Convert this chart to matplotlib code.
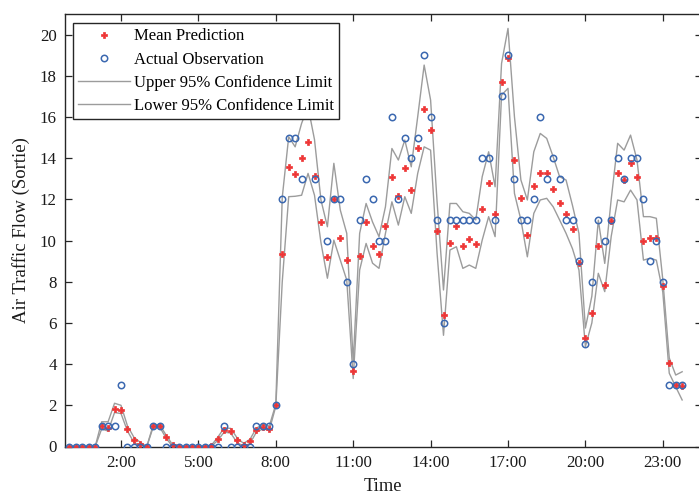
import numpy as np
import matplotlib
matplotlib.use("Agg")
import matplotlib.pyplot as plt

plt.rcParams['font.family'] = ['Liberation Serif', 'DejaVu Serif']
plt.rcParams['mathtext.fontset'] = 'stix'

# 15-minute slots over one day (hours)
hours = np.arange(96) * 0.25

actual = [0, 0, 0, 0, 0, 1, 1, 1, 3, 0, 0, 0, 0, 1, 1, 0,
          0, 0, 0, 0, 0, 0, 0, 0, 1, 0, 0, 0, 0, 1, 1, 1,
          2, 12, 15, 15, 13, 17, 13, 12, 10, 12, 12, 8, 4, 11, 13, 12,
          10, 10, 16, 12, 15, 14, 15, 19, 16, 11, 6, 11, 11, 11, 11, 11,
          14, 14, 11, 17, 19, 13, 11, 11, 12, 16, 13, 14, 13, 11, 11, 9,
          5, 8, 11, 10, 11, 14, 13, 14, 14, 12, 9, 10, 8, 3, 3, 3]

mean_pred = [0, 0, 0, 0, 0, 1.0, 0.88, 1.8, 1.75, 0.86, 0.31, 0.1, 0.0, 1.0, 1.0, 0.46,
             0.05, 0, 0, 0, 0, 0, 0.03, 0.36, 0.8, 0.76, 0.31, 0.07, 0.26, 0.8, 0.95, 0.86,
             2.0, 9.33, 13.57, 13.24, 14.02, 14.8, 13.13, 10.88, 9.2, 12.0, 10.1, 9.04, 3.66, 9.26, 10.88, 9.72,
             9.33, 10.72, 13.08, 12.18, 13.52, 12.45, 14.5, 16.37, 15.36, 10.48, 6.4, 9.88, 10.72, 9.72, 10.07, 9.83,
             11.53, 12.79, 11.29, 17.71, 18.84, 13.9, 12.06, 10.27, 12.63, 13.29, 13.29, 12.5, 11.84, 11.29, 10.54, 8.9,
             5.28, 6.46, 9.72, 7.86, 10.96, 13.29, 12.94, 13.75, 13.07, 9.99, 10.1, 10.1, 7.8, 4.07, 3.0, 2.92]

upper_95 = [0, 0, 0, 0, 0, 1.2, 1.2, 2.1, 2.0, 1.0, 0.45, 0.2, 0.0, 1.05, 1.05, 0.55,
            0.08, 0, 0, 0, 0, 0, 0.05, 0.45, 0.9, 0.88, 0.42, 0.15, 0.35, 0.9, 1.05, 1.0,
            2.05, 12.1, 15.04, 14.55, 15.69, 16.5, 14.9, 11.97, 10.67, 13.75, 11.48, 10.35, 4.1, 10.35, 11.8, 10.9,
            10.19, 11.64, 14.47, 13.91, 14.88, 13.58, 16.01, 18.52, 16.82, 11.9, 7.6, 11.8, 11.8, 11.4, 11.32, 11.0,
            13.1, 14.31, 12.61, 18.6, 20.3, 16.01, 12.94, 11.97, 14.31, 15.2, 14.96, 14.07, 13.1, 12.94, 11.7, 10.35,
            5.75, 7.3, 10.99, 8.89, 12.0, 14.72, 14.39, 15.12, 13.91, 11.16, 11.16, 11.08, 8.1, 4.3, 3.47, 3.63]

lower_95 = [0, 0, 0, 0, 0, 0.85, 0.75, 1.65, 1.6, 0.75, 0.2, 0.05, 0, 0.95, 0.95, 0.4,
            0, 0, 0, 0, 0, 0, 0, 0.3, 0.7, 0.65, 0.2, 0, 0.15, 0.7, 0.85, 0.8,
            1.95, 8.0, 12.13, 12.15, 12.2, 13.26, 12.2, 9.9, 8.17, 10.02, 9.05, 8.08, 3.3, 8.57, 9.86, 8.9,
            8.65, 10.35, 11.88, 10.75, 12.13, 11.32, 13.26, 14.55, 14.39, 9.4, 5.4, 9.54, 9.7, 8.65, 8.81, 8.65,
            10.02, 11.16, 10.19, 17.06, 17.39, 12.29, 11.0, 9.21, 11.32, 11.97, 12.05, 11.64, 11.0, 10.35, 9.6, 8.57,
            4.85, 6.0, 8.41, 7.52, 10.2, 11.97, 11.88, 12.45, 11.97, 9.05, 9.14, 9.05, 7.5, 3.56, 2.9, 2.26]

tick_hours = [2, 5, 8, 11, 14, 17, 20, 23]
tick_labels = ["2:00", "5:00", "8:00", "11:00", "14:00", "17:00", "20:00", "23:00"]

W, H = 699, 497
fig = plt.figure(figsize=(W / 100, H / 100), dpi=100)
left_px, right_px, top_px, bottom_px = 64.5, 701.5, 14.0, 446.5
ax = fig.add_axes([left_px / W, (H - bottom_px) / H,
                   (right_px - left_px) / W, (bottom_px - top_px) / H])

gray = '#9c9c9c'
ax.plot(hours, mean_pred, linestyle='none', marker='P', markersize=5.0,
        color='#ee3535', markeredgecolor='#ee3535', markeredgewidth=0.5,
        label='Mean Prediction', zorder=3)
ax.plot(hours, actual, linestyle='none', marker='o', markersize=4.6,
        markerfacecolor='none', markeredgecolor='#3b68b0', markeredgewidth=1.1,
        label='Actual Observation', zorder=4)
ax.plot(hours, upper_95, color=gray, lw=1.0, label='Upper 95% Confidence Limit', zorder=2)
ax.plot(hours, lower_95, color=gray, lw=1.0, label='Lower 95% Confidence Limit', zorder=2)

ax.set_xlim(-0.19, 24.5)
ax.set_ylim(0, 21)
ax.set_xticks(tick_hours)
ax.set_xticklabels(tick_labels)
ax.set_yticks(np.arange(0, 21, 2))

for s in ax.spines.values():
    s.set_color('#262626')
    s.set_linewidth(1.0)
ax.tick_params(direction='in', length=5, width=0.9, colors='#262626',
               labelcolor='#1a1a1a', labelsize=12.2, top=True, right=True)
ax.tick_params(axis='x', pad=6)
ax.tick_params(axis='y', pad=5.5)

ax.set_xlabel('Time', fontsize=13.2, color='#1a1a1a', labelpad=5)
ax.set_ylabel('Air Traffic Flow (Sortie)', fontsize=13.5, color='#1a1a1a', labelpad=7)

leg = ax.legend(loc='upper left', bbox_to_anchor=(0.0133, 0.979), borderaxespad=0,
                fontsize=12, frameon=True, fancybox=False, framealpha=1,
                edgecolor='#262626', handlelength=3.1, handletextpad=0.25,
                labelspacing=0.43, borderpad=0.32, markerscale=1.0)
leg.get_frame().set_linewidth(1.0)
leg.set_zorder(10)

fig.savefig('out.png', dpi=100)
